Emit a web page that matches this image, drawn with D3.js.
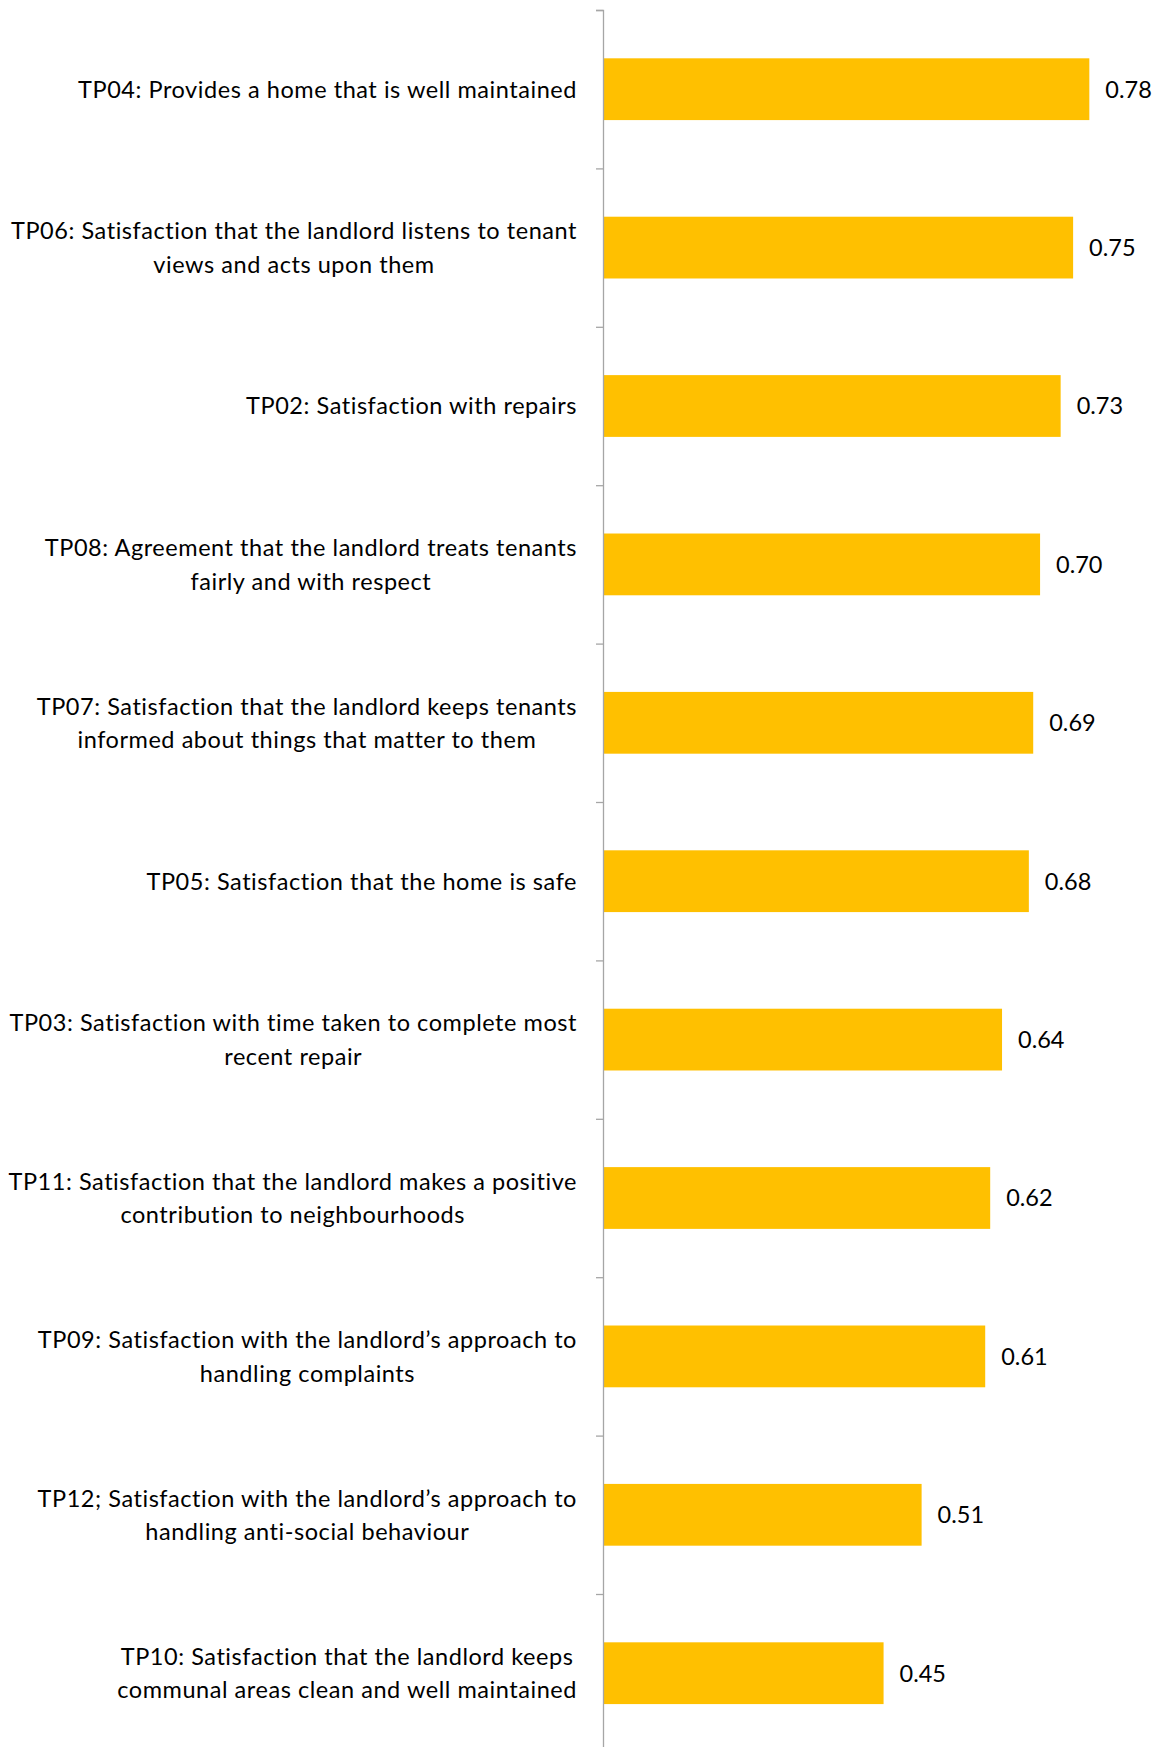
<!DOCTYPE html>
<html>
<head>
<meta charset="utf-8">
<script src="https://cdn.jsdelivr.net/npm/d3@7"></script>
<style>
  html, body { margin: 0; padding: 0; background: #fff; }
  svg { display: block; }
  text { font-family: Lato, "Open Sans", sans-serif; fill: #000; }
</style>
</head>
<body>
<svg id="chart" width="1161" height="1747"></svg>
<script>
const categories = [
  ["TP04: Provides a home that is well maintained"],
  ["TP06: Satisfaction that the landlord listens to tenant", "views and acts upon them"],
  ["TP02: Satisfaction with repairs"],
  ["TP08: Agreement that the landlord treats tenants", "fairly and with respect"],
  ["TP07: Satisfaction that the landlord keeps tenants", "informed about things that matter to them"],
  ["TP05: Satisfaction that the home is safe"],
  ["TP03: Satisfaction with time taken to complete most", "recent repair"],
  ["TP11: Satisfaction that the landlord makes a positive", "contribution to neighbourhoods"],
  ["TP09: Satisfaction with the landlord\u2019s approach to", "handling complaints"],
  ["TP12; Satisfaction with the landlord\u2019s approach to", "handling anti-social behaviour"],
  ["TP10: Satisfaction that the landlord keeps", "communal areas clean and well maintained"]
];
const values = [0.780, 0.754, 0.734, 0.701, 0.690, 0.683, 0.640, 0.621, 0.613, 0.511, 0.450];
const valueLabels = ["0.78", "0.75", "0.73", "0.70", "0.69", "0.68", "0.64", "0.62", "0.61", "0.51", "0.45"];

const svg = d3.select("#chart");
const axisX = 603, plotTop = 10, band = 158.4;
const keys = categories.map((c, i) => i);

const y = d3.scaleBand()
  .domain(keys)
  .range([plotTop, plotTop + band * keys.length])
  .paddingInner(0.61)
  .paddingOuter(0.305);

const x = d3.scaleLinear().domain([0, 0.9]).range([axisX, axisX + 0.9 * 623.5]);

// bars
svg.append("g").selectAll("rect")
  .data(values)
  .join("rect")
  .attr("x", x(0))
  .attr("y", (d, i) => y(i))
  .attr("width", d => x(d) - x(0))
  .attr("height", y.bandwidth())
  .attr("fill", "#FFC000");

// axis
const yAxis = d3.axisLeft(d3.scaleLinear().domain([0, keys.length]).range([plotTop, plotTop + band * keys.length]))
  .tickValues(d3.range(0, keys.length + 1))
  .tickSize(7)
  .tickFormat("");
const ag = svg.append("g").attr("transform", `translate(${axisX},0)`).call(yAxis);
ag.select(".domain").attr("stroke", "#A6A6A6").attr("stroke-width", 1.3);
ag.selectAll(".tick line").attr("stroke", "#A6A6A6").attr("stroke-width", 1.3);

// value labels
svg.append("g").selectAll("text")
  .data(values)
  .join("text")
  .attr("x", d => x(d) + 16)
  .attr("y", (d, i) => y(i) + y.bandwidth() / 2)
  .attr("dy", "0.36em")
  .attr("font-size", 23.5)
  .text((d, i) => valueLabels[i]);

// category labels
const labelRight = 577, lineH = 33.4;
const lg = svg.append("g");
categories.forEach((lines, i) => {
  const cy = y(i) + y.bandwidth() / 2;
  const g = lg.append("g");
  const texts = lines.map((ln, j) => g.append("text")
    .attr("font-size", 23.5)
    .attr("letter-spacing", "0.55px")
    .attr("text-anchor", "middle")
    .attr("y", cy + (j - (lines.length - 1) / 2) * lineH)
    .attr("dy", "0.36em")
    .text(ln));
  const maxW = d3.max(texts, t => t.node().getComputedTextLength());
  texts.forEach(t => t.attr("x", labelRight - maxW / 2));
});
</script>
</body>
</html>
